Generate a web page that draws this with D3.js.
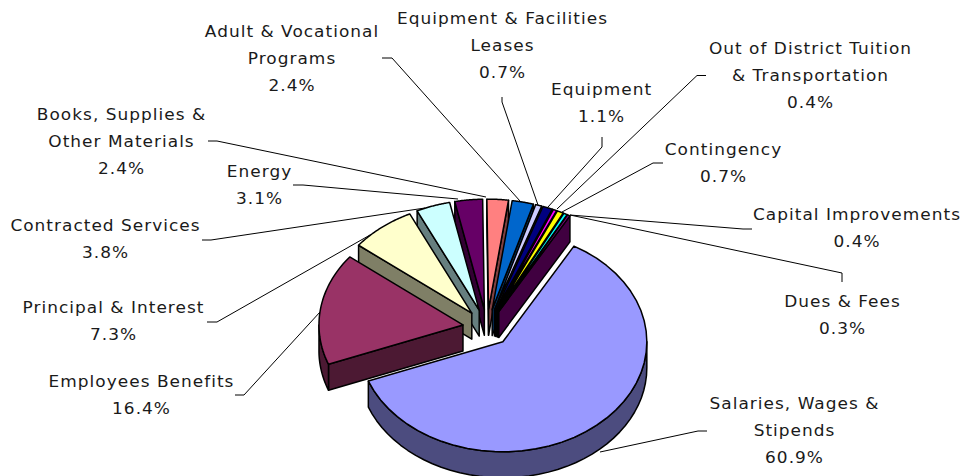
<!DOCTYPE html>
<html>
<head>
<meta charset="utf-8">
<title>Budget pie</title>
<script src="https://d3js.org/d3.v7.min.js"></script>
<style>
  html, body { margin: 0; padding: 0; background: #fff; }
  svg { display: block; }
  text { font-family: "DejaVu Sans", sans-serif; font-size: 15px; letter-spacing: 0.9px; fill: #1a1a1a; }
</style>
</head>
<body>
<svg id="mainsvg" width="960" height="476"></svg>
<script>
const categories = [
  ['Salaries, Wages &', 'Stipends'],
  ['Employees Benefits'],
  ['Principal & Interest'],
  ['Contracted Services'],
  ['Energy'],
  ['Books, Supplies &', 'Other Materials'],
  ['Adult & Vocational', 'Programs'],
  ['Equipment & Facilities', 'Leases'],
  ['Equipment'],
  ['Out of District Tuition', '& Transportation'],
  ['Contingency'],
  ['Capital Improvements'],
  ['Dues & Fees']
]
const percents = [60.9, 16.4, 7.3, 3.8, 3.1, 2.4, 2.4, 0.7, 1.1, 0.4, 0.7, 0.4, 0.3]
const colors = ['#9999ff', '#993366', '#ffffcc', '#ccffff', '#660066', '#ff8080', '#0066cc',
  '#ccccff', '#000080', '#ff00ff', '#ffff00', '#00ffff', '#800080']

// where each label sits, and the elbow of its leader line
const labelX = [794.5, 141.5, 113.5, 105.5, 259.5, 121.5, 292, 502.5, 601.5, 810.5, 723.5, 857, 842.5]
const labelY = [409, 387, 313, 231, 177, 120, 37, 24, 95, 54, 155, 220, 307]
const leaders = [
  [[707, 431], [698, 431], [600, 452]],
  [[235, 395], [244, 395], [320, 312]],
  [[207, 322], [217, 322], [370, 235]],
  [[202, 240], [211, 240], [425, 208]],
  [[293, 185], [303, 185], [458, 199]],
  [[208, 141], [217, 141], [486, 197]],
  [[382, 58], [392, 58], [520, 201]],
  [[502, 97], [502, 102], [538, 205]],
  [[602, 137], [602, 147], [548, 207]],
  [[706, 75.5], [697, 75.5], [557, 209]],
  [[663, 163], [653, 163], [562, 212]],
  [[752, 229], [743, 229], [570, 215]],
  [[842, 282], [842, 273], [570, 215]]
]

const svg = d3.select('#mainsvg')
const center = {x: 487, y: 327.7}
const rx = 144, ry = 110, depth = 26, explode = 24.3
const lineHeight = 27
const textStretch = 1.13

// angles run clockwise from 12 o'clock
const slices = d3.pie().sort(null)
  .startAngle(29.6 * Math.PI / 180)
  .endAngle((29.6 + 360) * Math.PI / 180)(percents)

const at = (a, r, o) => [
  o[0] + r * rx * Math.sin(a),
  o[1] - r * ry * Math.cos(a)
]
const down = p => [p[0], p[1] + depth]
const line = d3.line()
const shade = c => d3.rgb(c).darker(1.95).formatHex()

const arcPoints = (a0, a1) => d3.range(0, 41).map(i => a0 + (a1 - a0) * i / 40)

// upper slices first, the big front slice last
const order = slices.map((d, i) => i)
  .sort((a, b) => Math.cos((slices[b].startAngle + slices[b].endAngle) / 2) -
                  Math.cos((slices[a].startAngle + slices[a].endAngle) / 2))

leaders.forEach(pts => {
  svg.append('path').attr('d', line(pts)).attr('fill', 'none')
    .attr('stroke', '#000').attr('stroke-width', 1)
})

order.forEach(i => {
  const d = slices[i]
  const mid = (d.startAngle + d.endAngle) / 2
  const o = at(mid, explode / rx, [center.x, center.y])
  const side = shade(colors[i])
  const group = svg.append('g')
    .attr('stroke', '#000').attr('stroke-width', 1.5).attr('stroke-linejoin', 'round')

  const wall = pts => group.append('path')
    .attr('d', line(pts.concat(pts.slice().reverse().map(down))) + 'Z')
    .attr('fill', side)

  if (Math.sin(d.startAngle) < 0) wall([o, at(d.startAngle, 1, o)])
  if (Math.sin(d.endAngle) > 0) wall([o, at(d.endAngle, 1, o)])

  // outer rim, only the part facing the viewer
  const lo = Math.max(d.startAngle, Math.PI / 2), hi = Math.min(d.endAngle, 3 * Math.PI / 2)
  if (hi > lo) wall(arcPoints(lo, hi).map(a => at(a, 1, o)))

  const top = [o].concat(arcPoints(d.startAngle, d.endAngle).map(a => at(a, 1, o)))
  group.append('path').attr('d', line(top) + 'Z').attr('fill', colors[i])
})

categories.forEach((lines, i) => {
  const t = svg.append('text').attr('text-anchor', 'middle')
    .attr('transform', `translate(${labelX[i]},0) scale(${textStretch},1)`)
  lines.concat([percents[i].toFixed(1) + '%']).forEach((s, k) => {
    t.append('tspan').attr('x', 0).attr('y', labelY[i] + k * lineHeight).text(s)
  })
})
</script>
</body>
</html>
